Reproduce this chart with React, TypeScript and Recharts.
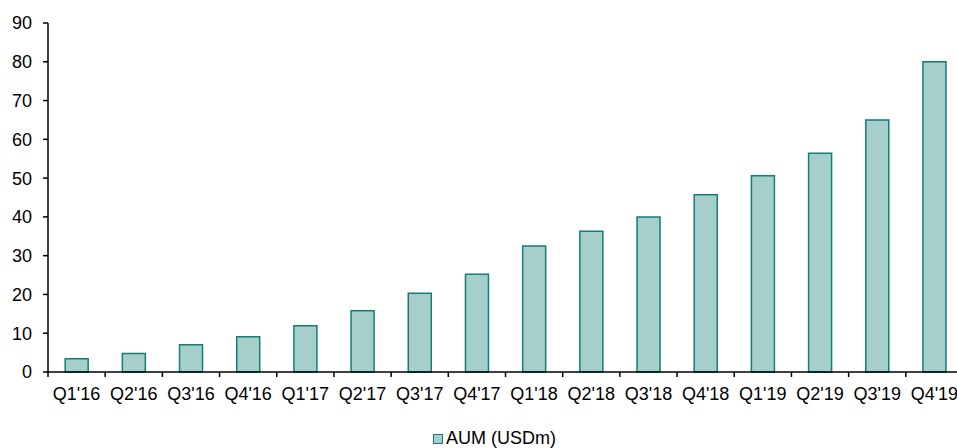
import React from 'react';
import { BarChart, Bar, XAxis, YAxis, Legend } from 'recharts';

// quarters and assets under management (USD m)
const quarters = [
  "Q1'16", "Q2'16", "Q3'16", "Q4'16",
  "Q1'17", "Q2'17", "Q3'17", "Q4'17",
  "Q1'18", "Q2'18", "Q3'18", "Q4'18",
  "Q1'19", "Q2'19", "Q3'19", "Q4'19",
];
const aum = [3.4, 4.8, 7.0, 9.1, 11.9, 15.8, 20.3, 25.2, 32.5, 36.3, 40.0, 45.7, 50.6, 56.4, 65.0, 80.0];
const yTicks = [0, 10, 20, 30, 40, 50, 60, 70, 80, 90];
const seriesName = 'AUM (USDm)';

const data = quarters.map((q, i) => ({ q, aum: aum[i] }));

const FILL = '#A6CFCC';
const STROKE = '#157C76';
const FONT = '"Liberation Sans", Arial, sans-serif';

const CHART_W = 972;
const CHART_H = 448;
const MARGIN = { top: 23, right: 9, bottom: 0, left: 0 };
const Y_W = 48;
const PLOT_W = CHART_W - MARGIN.left - MARGIN.right - Y_W;

// label at the band centre, small tick mark at the band's left edge
const QuarterTick = (props: any) => {
  const { x, y, payload } = props;
  const half = PLOT_W / quarters.length / 2;
  return (
    <g>
      <line x1={x - half} x2={x - half} y1={y - 15} y2={y - 10} stroke="#000" strokeWidth={1.5} />
      <text x={x} y={y} dy={12.8} textAnchor="middle" fill="#000" fontSize={18} fontFamily={FONT}>
        {payload.value}
      </text>
    </g>
  );
};

const renderLegend = () => (
  <div style={{ fontFamily: FONT, fontSize: 18, lineHeight: '18px', color: '#000', whiteSpace: 'nowrap' }}>
    <span
      style={{
        display: 'inline-block',
        width: 8,
        height: 8,
        background: FILL,
        border: `1px solid ${STROKE}`,
        marginRight: 3,
      }}
    />
    {seriesName}
  </div>
);

export default function App() {
  return (
    <div style={{ position: 'absolute', left: 0, top: 0, width: 957, height: 448, overflow: 'hidden', background: '#fff' }}>
      <BarChart width={CHART_W} height={CHART_H} data={data} margin={MARGIN} barCategoryGap="30%">
        <XAxis
          dataKey="q"
          height={76}
          interval={0}
          axisLine={{ stroke: '#000', strokeWidth: 1.5 }}
          tickLine={false}
          tickSize={5}
          tickMargin={10}
          tick={<QuarterTick />}
        />
        <YAxis
          width={Y_W}
          domain={[0, 90]}
          ticks={yTicks}
          interval={0}
          axisLine={{ stroke: '#000', strokeWidth: 1.5 }}
          tickLine={{ stroke: '#000', strokeWidth: 1.5 }}
          tickSize={5}
          tickMargin={11}
          tick={{ fill: '#000', fontSize: 18, fontFamily: FONT }}
        />
        <Legend
          layout="horizontal"
          verticalAlign="middle"
          align="center"
          content={renderLegend}
          wrapperStyle={{ top: 429, left: 433, width: 'auto' }}
        />
        <Bar dataKey="aum" name={seriesName} fill={FILL} stroke={STROKE} strokeWidth={1.5} isAnimationActive={false} />
      </BarChart>
    </div>
  );
}
